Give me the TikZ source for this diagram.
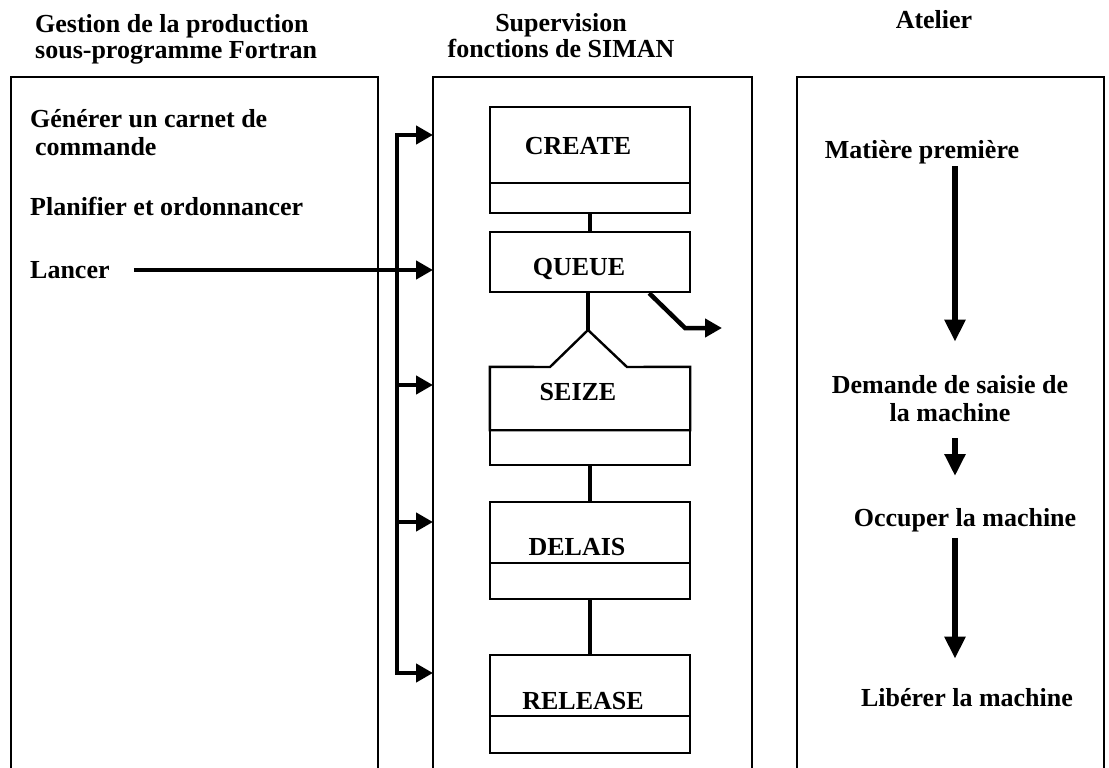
\documentclass[tikz,border=0pt]{standalone}
\usepackage{fontspec}
\setmainfont{Liberation Serif}
\usetikzlibrary{arrows.meta}
\begin{document}
\begin{tikzpicture}[x=1pt,y=-1pt,
    every node/.style={font=\bfseries\fontsize{26}{28}\selectfont, inner sep=2pt},
    head/.style={font=\bfseries\fontsize{26}{26}\selectfont, align=center},
    panel/.style={line width=1.8pt},
    part/.style={draw, line width=2.4pt, minimum width=200pt, inner sep=0pt},
    link/.style={line width=4pt, line cap=rect},
    flow/.style={line width=4.5pt, -{Triangle[length=17pt,width=18pt]}},
    bigflow/.style={line width=5.5pt, -{Triangle[length=22pt,width=20pt]}}]
    \useasboundingbox (0,0) rectangle (1109,768);

    % column titles
    \node[head, align=left, anchor=west] (hgest) at (33,39) {Gestion de la production\\sous-programme Fortran};
    \node[head] (hsup) at (561,36) {Supervision\\fonctions de SIMAN};
    \node[head] (hat) at (934,20) {Atelier};

    % the three frames, open at the bottom
    \draw[panel] (11,768) -- (11,77) -- (378,77) -- (378,768);
    \draw[panel] (433,768) -- (433,77) -- (752,77) -- (752,768);
    \draw[panel] (797,768) -- (797,77) -- (1104,77) -- (1104,768);
    \coordinate (midw) at (433,0);

    % production management
    \node[anchor=west, align=left] (gen) at (28,133) {G\'en\'erer un carnet de\\\hspace*{5pt}commande};
    \node[anchor=west] (plan) at (28,206) {Planifier et ordonnancer};
    \node[anchor=west] (lancer) at (28,270) {Lancer};
    \draw[flow, shorten <=22pt] (lancer.east) -- (lancer.east -| midw);

    % SIMAN blocks
    \node[part, minimum height=76pt] (create) at (590,145) {};
    \node[part, minimum height=30pt] (createb) at (590,198) {};
    \node[part, minimum height=60pt] (queue) at (590,262) {};
    \node[minimum width=200pt, minimum height=63pt, inner sep=0pt] (seize) at (590,398.5) {};
    \node[part, minimum height=35pt] (seizeb) at (590,447.5) {};
    \node[part, minimum height=61pt] (delais) at (590,532.5) {};
    \node[part, minimum height=36pt] (delaisb) at (590,581) {};
    \node[part, minimum height=61pt] (release) at (590,685.5) {};
    \node[part, minimum height=37pt] (releaseb) at (590,734.5) {};

    \node (tcreate) at (578,146) {CREATE};
    \node (tqueue) at (579,269) {QUEUE};
    \node (tseize) at (578,392) {SEIZE};
    \node (tdelais) at (577,547) {DELAIS};
    \node (trelease) at (583,701) {RELEASE};

    \coordinate (apex) at (588,330);
    \coordinate (footl) at (550,367);
    \coordinate (footr) at (627,367);
    \draw[line width=2.4pt] (seize.north west) -- (footl) -- (apex) -- (footr)
      -- (seize.north east) -- (seize.south east) -- (seize.south west) -- cycle;

    \draw[link, line cap=butt] (createb.south) -- (queue.north);
    \draw[link, line cap=butt] (queue.south -| apex) -- (apex);
    \draw[link, line cap=butt] (seizeb.south) -- (delais.north);
    \draw[link, line cap=butt] (delaisb.south) -- (release.north);

    % rejected entities leave the queue
    \coordinate (qbend) at (685,328);
    \coordinate (qout) at (722,328);
    \draw[flow, line join=miter] ([xshift=-42pt]queue.south east) -- (qbend) -- (qout);

    % bus feeding the blocks
    \foreach \y [count=\i] in {135,385,522,673} {
      \coordinate (b\i) at (397,\y);
      \draw[flow] (b\i) -- (b\i -| midw);
    }
    \draw[link] (b1) -- (b4);

    % workshop
    \coordinate (ax) at (955,0);
    \node (mat) at (922,152) {Mati\`ere premi\`ere};
    \node[align=center] (dem) at (950,399) {Demande de saisie de\\la machine};
    \node (occ) at (965,520) {Occuper la machine};
    \node (lib) at (967,698) {Lib\'erer la machine};
    \draw[bigflow, shorten >=32pt] (mat.south -| ax) -- (dem.north -| ax);
    \draw[bigflow, shorten <=14pt, shorten >=30pt] (dem.south -| ax) -- (occ.north -| ax);
    \draw[bigflow, shorten <=4pt, shorten >=28pt] (occ.south -| ax) -- (lib.north -| ax);
\end{tikzpicture}
\end{document}
